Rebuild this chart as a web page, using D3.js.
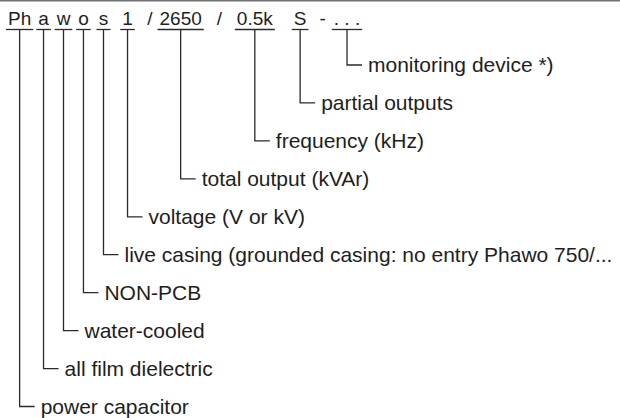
<!DOCTYPE html>
<html>
<head>
<meta charset="utf-8">
<script src="https://cdn.jsdelivr.net/npm/d3@7/dist/d3.min.js"></script>
<style>
  html, body { margin: 0; padding: 0; background: #fff; }
  svg { display: block; }
  text { font-family: "Liberation Sans", Arial, Helvetica, sans-serif; fill: #1e1e1e; }
</style>
</head>
<body>
<svg id="chart" width="620" height="418"></svg>
<script>
// ---- data ----
const codeTokens = ["Ph", "a", "w", "o", "s", "1", "/", "2650", "/", "0.5k", "S", "-", ". . ."];
const codeParts = ["Ph", "a", "w", "o", "s", "1", "2650", "0.5k", "S", ". . ."];
const partLabels = [
  "power capacitor",
  "all film dielectric",
  "water-cooled",
  "NON-PCB",
  "live casing (grounded casing: no entry Phawo 750/...",
  "voltage (V or kV)",
  "total output (kVAr)",
  "frequency (kHz)",
  "partial outputs",
  "monitoring device *)"
];

// ---- layout (gaps between header tokens, px) ----
const tokenGap = [0, 7, 7.8, 7.8, 10, 14, 14.4, 7, 15, 14.8, 21, 13, 8];
const W = 620, H = 418;
const headFs = 19, labelFs = 21;
const headerX = 8, headerBase = 25, underY = 29.5, lineTop = 30;
const svg = d3.select("#chart");

svg.append("line")
  .attr("x1", 0).attr("x2", W).attr("y1", 0.75).attr("y2", 0.75)
  .attr("stroke", "#707070").attr("stroke-width", 1.5);

const header = svg.append("text")
  .attr("x", headerX).attr("y", headerBase)
  .attr("font-size", headFs)
  .attr("xml:space", "preserve")
  .style("white-space", "pre");

header.selectAll("tspan").data(codeTokens).join("tspan")
  .attr("dx", (d, i) => tokenGap[i])
  .text(d => d);

// char index ranges of each token in the full text
const node = header.node();
let idx = 0;
const tokenRange = codeTokens.map(t => { const r = [idx, idx + t.length - 1]; idx += t.length; return r; });

let searchFrom = 0;
const parts = codeParts.map((p, i) => {
  const ti = codeTokens.indexOf(p, searchFrom);
  searchFrom = ti + 1;
  const [s, e] = tokenRange[ti];
  const a = node.getExtentOfChar(s), b = node.getExtentOfChar(e);
  let x0 = a.x - 2, x1 = b.x + b.width + 2;
  if (x1 - x0 < 14) { const m = (x0 + x1) / 2; x0 = m - 7; x1 = m + 7; }
  return { part: p, label: partLabels[i], x0, x1, cx: (x0 + x1) / 2, i };
});

// row scale: last part on top
const y = d3.scalePoint()
  .domain(d3.range(codeParts.length).reverse())
  .range([65, 406.5]);

const g = svg.append("g").attr("stroke", "#2a2a2a").attr("stroke-width", 1.3).attr("fill", "none");

g.selectAll("line.under").data(parts).join("line")
  .attr("class", "under")
  .attr("x1", d => d.x0).attr("x2", d => d.x1)
  .attr("y1", underY).attr("y2", underY);

g.selectAll("path.leader").data(parts).join("path")
  .attr("class", "leader")
  .attr("d", d => `M${d.cx},${lineTop}V${y(d.i)}H${d.cx + 15}`);

svg.selectAll("text.lbl").data(parts).join("text")
  .attr("class", "lbl")
  .attr("x", d => d.cx + 21)
  .attr("y", d => y(d.i) + 7)
  .attr("font-size", labelFs)
  .text(d => d.label);
</script>
</body>
</html>
